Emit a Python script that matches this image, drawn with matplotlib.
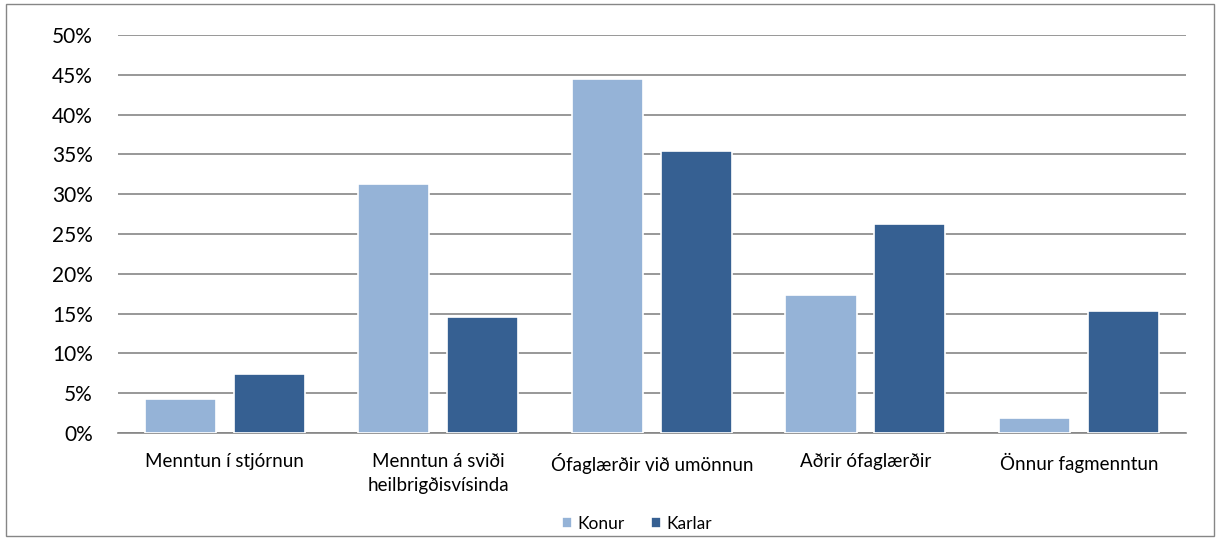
import numpy as np
import matplotlib.pyplot as plt
from matplotlib.patches import Rectangle
from matplotlib.ticker import PercentFormatter

categories = ['Menntun í stjórnun', 'Menntun á sviði\nheilbrigðisvísinda',
              'Ófaglærðir við umönnun', 'Aðrir ófaglærðir', 'Önnur fagmenntun']
konur = [4.3, 31.3, 44.5, 17.4, 1.9]
karlar = [7.4, 14.6, 35.5, 26.3, 15.4]
yticks = np.arange(0, 55, 5)

plt.rcParams['font.family'] = ['Lato', 'DejaVu Sans']

fig = plt.figure(figsize=(12.2, 5.4), dpi=100)
fig.patch.set_facecolor('white')
ax = fig.add_axes([0.0967, 0.198, 0.8753, 0.737])

x = np.arange(len(categories))
w = 0.333
off = 0.208
ax.bar(x - off, konur, w, color='#95B3D7', edgecolor='white', linewidth=1.2, label='Konur', zorder=3)
ax.bar(x + off, karlar, w, color='#366092', edgecolor='white', linewidth=1.2, label='Karlar', zorder=3)

ax.set_xlim(-0.5, len(categories) - 0.5)
ax.set_ylim(0, 50)
ax.set_yticks(yticks)
ax.yaxis.set_major_formatter(PercentFormatter(decimals=0))
ax.grid(axis='y', color='#868686', linewidth=1.2, zorder=0)
ax.set_xticks(x)
ax.set_xticklabels(categories, fontsize=13.5, linespacing=1.55)
ax.tick_params(axis='y', labelsize=15, length=0, pad=18)
ax.tick_params(axis='x', length=0, pad=14)
for s in ['top', 'right', 'left']:
    ax.spines[s].set_visible(False)
ax.spines['bottom'].set_color('#868686')
ax.spines['bottom'].set_linewidth(1.2)

fig.legend(loc='center', bbox_to_anchor=(0.522, 0.03), ncol=2, frameon=False,
           fontsize=12.5, handlelength=0.6, handleheight=0.6, columnspacing=1.5,
           handletextpad=0.3)

fig.patches.append(Rectangle((0.005, 0.008), 0.99, 0.985, transform=fig.transFigure,
                             fill=False, edgecolor='#868686', linewidth=1))

fig.savefig('out.png', dpi=100)
